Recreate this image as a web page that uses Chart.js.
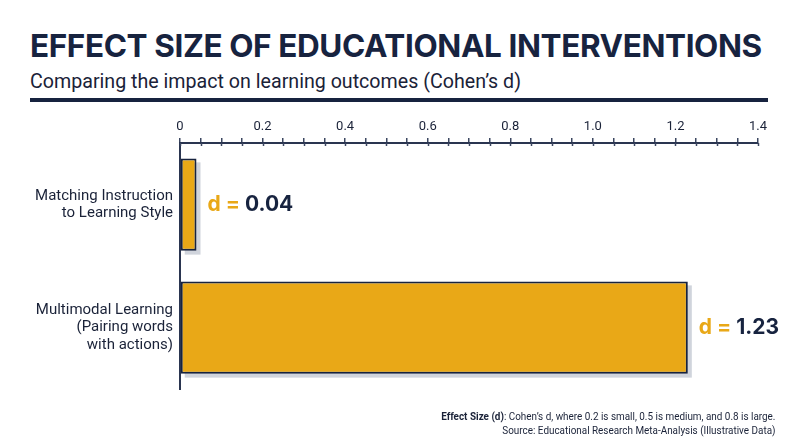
<!DOCTYPE html>
<html>
<head>
<meta charset="utf-8">
<script src="https://cdn.jsdelivr.net/npm/chart.js@4.4.1/dist/chart.umd.min.js"></script>
<style>
  body { margin: 0; width: 800px; height: 447px; background: #fff; overflow: hidden; position: relative; font-family: Roboto, sans-serif; color: #17233f; }
  #title { position: absolute; left: 30px; top: 27px; font-family: Inter, sans-serif; font-weight: 700; font-size: 31.5px; line-height: 38px; white-space: nowrap; letter-spacing: -0.4px; }
  #subtitle { position: absolute; left: 30px; top: 68px; font-size: 21px; line-height: 26px; white-space: nowrap; color: #1a2238; transform: scaleX(0.935); transform-origin: left center; }
  #rule { position: absolute; left: 30px; top: 98px; width: 738px; height: 4px; background: #17233f; }
  #note { position: absolute; right: 25px; top: 410px; font-size: 11px; line-height: 14px; text-align: right; color: #1a2238; white-space: nowrap; transform: scaleX(0.9); transform-origin: right center; }
  canvas { position: absolute; left: 0; top: 0; }
</style>
</head>
<body>
<div id="title">EFFECT SIZE OF EDUCATIONAL INTERVENTIONS</div>
<div id="subtitle">Comparing the impact on learning outcomes (Cohen’s d)</div>
<div id="rule"></div>
<canvas id="chart" width="800" height="447"></canvas>
<div id="note"><b>Effect Size (d)</b>: Cohen’s d, where 0.2 is small, 0.5 is medium, and 0.8 is large.<br>Source: Educational Research Meta-Analysis (Illustrative Data)</div>

<script>
// data
var categories = [
  ['Matching Instruction', 'to Learning Style'],
  ['Multimodal Learning', '(Pairing words', 'with actions)']
];
var effectSizes = [0.04, 1.23];
var axisMin = 0;
var axisMax = 1.4;
var minorStep = 0.05;
var majorStep = 0.2;

var NAVY = '#17233f';
var GOLD = '#e9a817';

function isMajor(v) {
  var r = v / majorStep;
  return Math.abs(r - Math.round(r)) < 1e-6;
}

// grey drop shadow behind each bar
var barShadow = {
  id: 'barShadow',
  beforeDatasetsDraw: function (chart) {
    var ctx = chart.ctx;
    var meta = chart.getDatasetMeta(0);
    ctx.save();
    ctx.fillStyle = 'rgba(170,176,192,0.55)';
    meta.data.forEach(function (bar) {
      var left = Math.min(bar.base, bar.x);
      var w = Math.abs(bar.x - bar.base);
      ctx.fillRect(left + 4, bar.y - bar.height / 2 + 4, w, bar.height);
    });
    ctx.restore();
  }
};

// "d = value" labels after each bar
var valueLabels = {
  id: 'valueLabels',
  afterDatasetsDraw: function (chart) {
    var ctx = chart.ctx;
    var meta = chart.getDatasetMeta(0);
    ctx.save();
    ctx.font = '700 21px Inter, sans-serif';
    ctx.textBaseline = 'middle';
    meta.data.forEach(function (bar, i) {
      var x = bar.x + 11;
      var prefix = 'd = ';
      ctx.fillStyle = GOLD;
      ctx.fillText(prefix, x, bar.y);
      ctx.fillStyle = NAVY;
      ctx.fillText(effectSizes[i].toFixed(2), x + ctx.measureText(prefix).width, bar.y);
    });
    ctx.restore();
  }
};

// extend the x tick marks a little below the axis line
var crossTicks = {
  id: 'crossTicks',
  afterDraw: function (chart) {
    var sc = chart.scales.x;
    var ctx = chart.ctx;
    ctx.save();
    ctx.strokeStyle = '#3b4660';
    ctx.lineWidth = 1.5;
    sc.ticks.forEach(function (t) {
      var px = Math.round(sc.getPixelForValue(t.value)) + 0.5;
      ctx.beginPath();
      ctx.moveTo(px, sc.bottom);
      ctx.lineTo(px, sc.bottom + 3);
      ctx.stroke();
    });
    ctx.restore();
  }
};

new Chart(document.getElementById('chart'), {
  type: 'bar',
  data: {
    labels: categories,
    datasets: [{
      data: effectSizes,
      backgroundColor: GOLD,
      borderColor: NAVY,
      borderWidth: 2,
      borderSkipped: false,
      barPercentage: 0.75,
      categoryPercentage: 1
    }]
  },
  options: {
    indexAxis: 'y',
    responsive: false,
    animation: false,
    layout: { padding: { top: 110, right: 42, bottom: 58, left: 0 } },
    plugins: {
      legend: { display: false },
      tooltip: { enabled: false }
    },
    scales: {
      x: {
        position: 'top',
        min: axisMin,
        max: axisMax,
        afterFit: function (s) { s.height = 33; },
        ticks: {
          stepSize: minorStep,
          autoSkip: false,
          maxRotation: 0,
          padding: 3,
          color: '#1a2238',
          font: { family: 'Roboto', size: 13 },
          callback: function (v) {
            if (!isMajor(v)) return '';
            return v === 0 ? '0' : v.toFixed(1);
          }
        },
        grid: { drawOnChartArea: false, tickLength: 5, color: '#3b4660', lineWidth: 1.5 },
        border: { color: '#2a3550', width: 2 }
      },
      y: {
        afterFit: function (s) { s.width = 180; },
        ticks: {
          padding: 7,
          color: '#1a2238',
          font: { family: 'Roboto', size: 15, lineHeight: 1.15 }
        },
        grid: { display: false, drawTicks: false },
        border: { color: '#2a3550', width: 2 }
      }
    }
  },
  plugins: [barShadow, valueLabels, crossTicks]
});
</script>
</body>
</html>
